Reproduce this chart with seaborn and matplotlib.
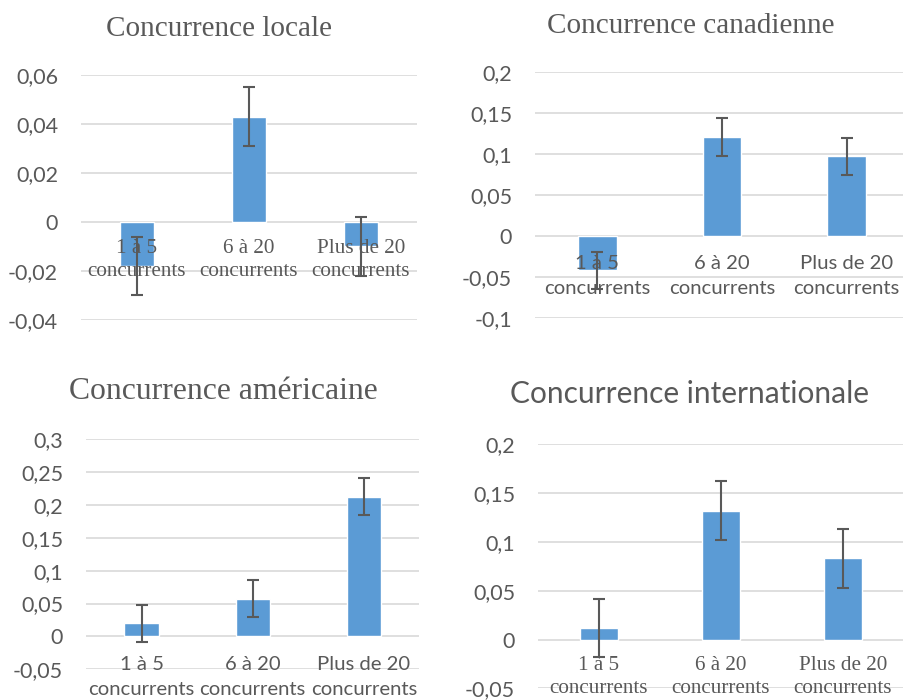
import numpy as np

import matplotlib
matplotlib.use("Agg")
import matplotlib.pyplot as plt
from matplotlib.ticker import MultipleLocator, FuncFormatter
import seaborn as sns

# ======================================================
# DATA
# ======================================================

groups = ["1 à 5\nconcurrents", "6 à 20\nconcurrents", "Plus de 20\nconcurrents"]

titles = [
    "Concurrence locale",
    "Concurrence canadienne",
    "Concurrence américaine",
    "Concurrence internationale",
]

locale_vals = [-0.018, 0.043, -0.010]
locale_err = [0.012, 0.012, 0.012]

canadienne_vals = [-0.042, 0.121, 0.097]
canadienne_err = [0.023, 0.023, 0.023]

americaine_vals = [0.020, 0.057, 0.212]
americaine_err = [0.028, 0.028, 0.028]

internationale_vals = [0.012, 0.132, 0.083]
internationale_err = [0.030, 0.030, 0.030]

y_limits = [(-0.04, 0.06), (-0.1, 0.2), (-0.05, 0.3), (-0.05, 0.2)]
y_steps = [0.02, 0.05, 0.05, 0.05]

# ======================================================
# CONFIGURATION
# ======================================================

BAR_COLOR = "#5B9BD5"
ERR_COLOR = "#595959"
GRID_COLOR = "#D9D9D9"
TEXT_COLOR = "#595959"

SERIF = "Liberation Serif"
SANS = "Lato"

W, H = 904, 700

sns.set_theme(style="white")

# axes boxes in pixels: left, top, right, bottom
boxes = [
    (81, 75, 417, 320),
    (535, 72, 909, 318),
    (86, 439, 419.5, 669.3),
    (538, 444.3, 904, 688.3),
]

# title centre x / baseline y in pixels, font, size
title_specs = [
    (219, 36, SERIF, 21),
    (691, 33, SERIF, 21),
    (223, 399, SERIF, 22.8),
    (690, 403, SANS, 21.5),
]

# category label font, size, pad, line spacing
cat_specs = [
    (SERIF, 15.2, 12, 1.3),
    (SANS, 14.6, 14, 1.55),
    (SANS, 14.6, 14, 1.55),
    (SERIF, 15.2, 12, 1.3),
]


def comma_format(v, pos):

    if abs(v) < 1e-12:
        return "0"

    return f"{v:g}".replace(".", ",")


# ======================================================
# PANEL
# ======================================================

def draw_panel(fig, i, values, errors):

    left, top, right, bottom = boxes[i]

    ax = fig.add_axes([
        left / W,
        1 - bottom / H,
        (right - left) / W,
        (bottom - top) / H
    ])

    sns.barplot(
        x=groups,
        y=values,
        color=BAR_COLOR,
        saturation=1,
        width=0.31,
        errorbar=None,
        ax=ax
    )

    ax.errorbar(
        np.arange(len(groups)),
        values,
        yerr=errors,
        fmt="none",
        ecolor=ERR_COLOR,
        elinewidth=1.5,
        capsize=4,
        capthick=1.5,
        zorder=3
    )

    ax.set_xlim(-0.5, len(groups) - 0.5)
    ax.set_ylim(*y_limits[i])
    ax.yaxis.set_major_locator(MultipleLocator(y_steps[i]))
    ax.yaxis.set_major_formatter(FuncFormatter(comma_format))

    ax.set_xlabel("")
    ax.set_ylabel("")

    for side in ["top", "right", "left"]:
        ax.spines[side].set_visible(False)

    ax.spines["bottom"].set_position(("data", 0))
    ax.spines["bottom"].set_visible(False)

    # grid below bars, category labels above bars
    ax.set_axisbelow(True)
    ax.xaxis.set_zorder(1.5)

    ax.yaxis.grid(True, color=GRID_COLOR, linewidth=1.2)
    ax.xaxis.grid(False)

    ax.tick_params(axis="y", length=0, pad=16.5, colors=TEXT_COLOR)
    for lab in ax.get_yticklabels():
        lab.set_fontfamily(SANS)
        lab.set_fontsize(15.5)

    font, size, pad, spacing = cat_specs[i]
    ax.tick_params(axis="x", length=0, pad=pad, colors=TEXT_COLOR)
    for lab in ax.get_xticklabels():
        lab.set_fontfamily(font)
        lab.set_fontsize(size)
        lab.set_linespacing(spacing)

    tx, ty, tfont, tsize = title_specs[i]
    fig.text(
        tx / W,
        1 - ty / H,
        titles[i],
        ha="center",
        va="baseline",
        fontfamily=tfont,
        fontsize=tsize,
        color=TEXT_COLOR
    )

    return ax


# ======================================================
# MAIN
# ======================================================

fig = plt.figure(figsize=(W / 100, H / 100), dpi=100)
fig.patch.set_facecolor("white")

draw_panel(fig, 0, locale_vals, locale_err)
draw_panel(fig, 1, canadienne_vals, canadienne_err)
draw_panel(fig, 2, americaine_vals, americaine_err)
draw_panel(fig, 3, internationale_vals, internationale_err)

fig.savefig("out.png", dpi=100, facecolor="white")
plt.close(fig)
